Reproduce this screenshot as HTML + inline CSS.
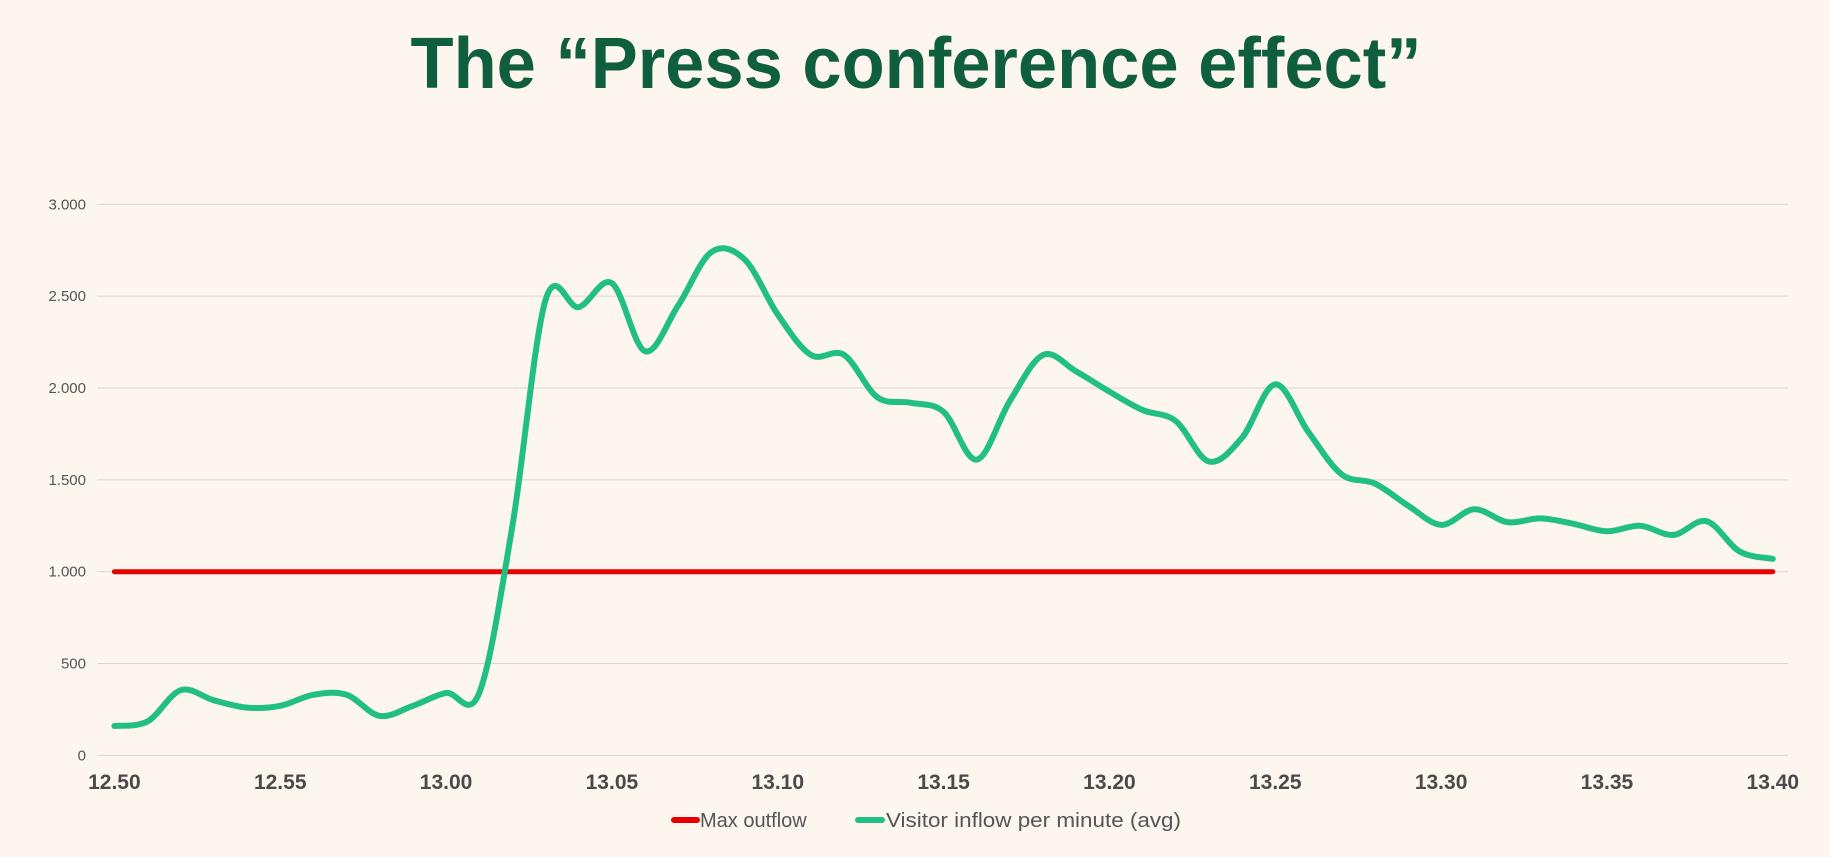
<!DOCTYPE html>
<html><head><meta charset="utf-8"><style>
html,body{margin:0;padding:0;background:#fdf6ee;}
svg{display:block;font-family:"Liberation Sans",sans-serif;}
</style></head><body>
<svg id="chart" width="1830" height="857" viewBox="0 0 1830 857" xmlns="http://www.w3.org/2000/svg">
<rect width="1830" height="857" fill="#fdf6ee"/>
<text x="916" y="88" text-anchor="middle" font-size="72" font-weight="bold" fill="#0f5e3e" textLength="1011" lengthAdjust="spacingAndGlyphs">The “Press conference effect”</text>
<g id="grid"></g>
<g id="yticks"></g>
<g id="xticks"></g>
<g id="series"></g>
<g>
 <g>
  <line x1="674" y1="820" x2="697" y2="820" stroke="#e60000" stroke-width="6" stroke-linecap="round"/>
  <text x="700" y="827" font-size="20" fill="#555">Max outflow</text>
 </g>
 <g>
  <line x1="858" y1="820" x2="882" y2="820" stroke="#22bf85" stroke-width="6" stroke-linecap="round"/>
  <text x="886" y="827" font-size="20" fill="#555" textLength="295" lengthAdjust="spacingAndGlyphs">Visitor inflow per minute (avg)</text>
 </g>
</g>
</svg>
<script>
const xTickLabels = ["12.50","12.55","13.00","13.05","13.10","13.15","13.20","13.25","13.30","13.35","13.40"];
const yTickValues = [0,500,1000,1500,2000,2500,3000];
const yTickLabels = ["0","500","1.000","1.500","2.000","2.500","3.000"];
const inflow = [160,185,355,300,260,270,330,330,215,270,340,340,1250,2480,2440,2570,2200,2450,2740,2700,2400,2180,2180,1950,1920,1870,1610,1930,2180,2090,1980,1880,1820,1600,1730,2020,1760,1530,1480,1360,1255,1340,1270,1290,1260,1220,1250,1200,1275,1110,1070];
const maxOutflow = [1000,1000];

const NS = "http://www.w3.org/2000/svg";
const X0 = 114.4, X1 = 1772.8, Y0 = 755.4, Y3 = 204.3;
const nMin = inflow.length - 1;
function xScale(i){ return X0 + (X1 - X0) * i / nMin; }
function yScale(v){ return Y0 - (Y0 - Y3) * v / 3000; }

const grid = document.getElementById('grid');
const yt = document.getElementById('yticks');
yTickValues.forEach((v, k) => {
  const l = document.createElementNS(NS, 'line');
  l.setAttribute('x1', 97); l.setAttribute('x2', 1788);
  l.setAttribute('y1', yScale(v)); l.setAttribute('y2', yScale(v));
  l.setAttribute('stroke', '#dcd6cf'); l.setAttribute('stroke-width', 1);
  
  
  grid.appendChild(l);
  const t = document.createElementNS(NS, 'text');
  t.setAttribute('x', 86); t.setAttribute('y', yScale(v) + 5);
  t.setAttribute('text-anchor', 'end'); t.setAttribute('font-size', '15');
  t.setAttribute('fill', '#555');
  t.textContent = yTickLabels[k];
  
  
  yt.appendChild(t);
});

const xt = document.getElementById('xticks');
xTickLabels.forEach((lab, k) => {
  const t = document.createElementNS(NS, 'text');
  t.setAttribute('x', xScale(k * 5)); t.setAttribute('y', 789);
  t.setAttribute('text-anchor', 'middle'); t.setAttribute('font-size', '21');
  t.setAttribute('font-weight', 'bold'); t.setAttribute('fill', '#4a4a4a');
  t.textContent = lab;
  
  
  xt.appendChild(t);
});

const series = document.getElementById('series');
const red = document.createElementNS(NS, 'line');
red.setAttribute('x1', xScale(0)); red.setAttribute('x2', xScale(nMin));
red.setAttribute('y1', yScale(maxOutflow[0])); red.setAttribute('y2', yScale(maxOutflow[1]));
red.setAttribute('stroke', '#e60000'); red.setAttribute('stroke-width', 5);
red.setAttribute('stroke-linecap', 'round');


series.appendChild(red);

const pts = inflow.map((v, i) => [xScale(i), yScale(v)]);
let d = 'M' + pts[0][0] + ',' + pts[0][1];
for (let i = 0; i < pts.length - 1; i++) {
  const p0 = pts[Math.max(0, i - 1)], p1 = pts[i], p2 = pts[i + 1], p3 = pts[Math.min(pts.length - 1, i + 2)];
  const c1x = p1[0] + (p2[0] - p0[0]) / 6, c1y = p1[1] + (p2[1] - p0[1]) / 6;
  const c2x = p2[0] - (p3[0] - p1[0]) / 6, c2y = p2[1] - (p3[1] - p1[1]) / 6;
  d += ' C' + c1x + ',' + c1y + ' ' + c2x + ',' + c2y + ' ' + p2[0] + ',' + p2[1];
}
const g = document.createElementNS(NS, 'path');
g.setAttribute('d', d); g.setAttribute('fill', 'none');
g.setAttribute('stroke', '#22bf85'); g.setAttribute('stroke-width', 6);
g.setAttribute('stroke-linecap', 'round'); g.setAttribute('stroke-linejoin', 'round');


series.appendChild(g);
</script>
</body></html>
